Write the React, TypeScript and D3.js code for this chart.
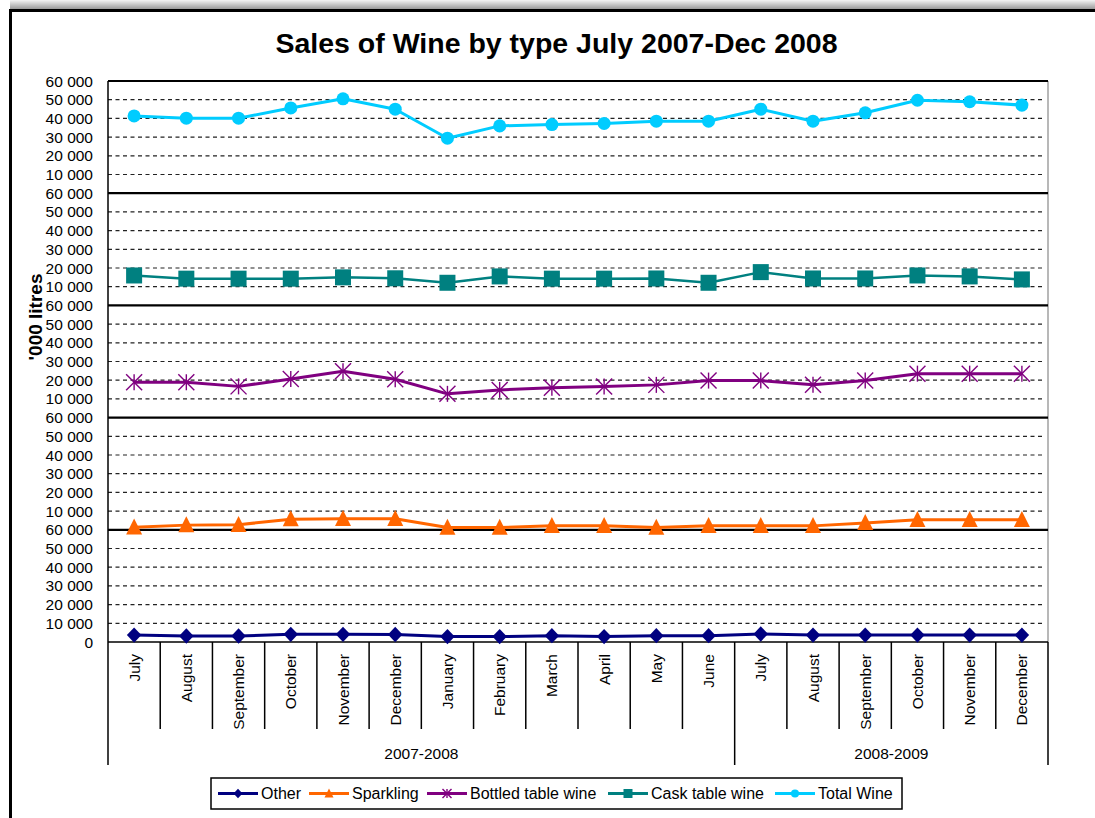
import React from "react";
import * as d3 from "d3";

const months = ["July","August","September","October","November","December","January","February","March","April","May","June","July","August","September","October","November","December"];
const groups = [{ label: "2007-2008", start: 0, end: 12 }, { label: "2008-2009", start: 12, end: 18 }];

const totalWine = [41300,40100,40100,45600,50500,44900,29400,36000,36700,37300,38500,38500,44900,38500,43000,49700,48900,47100];
const caskWine = [16000,14300,14300,14300,15000,14500,12100,15500,14300,14300,14400,12100,17800,14400,14400,16000,15500,13900];
const bottledWine = [18900,18900,16700,20700,24800,20500,12700,14800,15900,16600,17500,19800,19800,17600,19800,23500,23500,23500];
const sparkling = [1300,2500,2700,5700,5900,5900,1200,1200,2100,2100,1200,2100,2100,2100,3700,5400,5400,5400];
const other = [3700,3200,3200,4100,4100,4000,2900,2900,3400,2900,3400,3400,4300,3700,3700,3700,3700,3700];

const yTicks = [10000,20000,30000,40000,50000,60000];

type Series = { name: string; values: number[]; color: string; marker: string; width: number };
const panels: Series[] = [
  { name: "Total Wine", values: totalWine, color: "#00CCFF", marker: "circle", width: 3 },
  { name: "Cask table wine", values: caskWine, color: "#008080", marker: "square", width: 2.5 },
  { name: "Bottled table wine", values: bottledWine, color: "#800080", marker: "star", width: 3 },
  { name: "Sparkling", values: sparkling, color: "#FF6600", marker: "triangle", width: 3 },
  { name: "Other", values: other, color: "#000080", marker: "diamond", width: 3 },
];
const legendOrder = ["Other","Sparkling","Bottled table wine","Cask table wine","Total Wine"];

const W = 1095, H = 818;
const L = 108, R = 1048, T = 81, B = 642;
const FONT = "Arial, 'Liberation Sans', sans-serif";

function Marker({ type, x, y, color, s }: { type: string; x: number; y: number; color: string; s: number }) {
  if (type === "circle") return <circle cx={x} cy={y} r={s * 0.45} fill={color} />;
  if (type === "square") return <rect x={x - s / 2} y={y - s / 2} width={s} height={s} fill={color} />;
  if (type === "triangle") {
    const h = s;
    return <path d={`M${x},${y - h * 0.55}L${x + s / 2},${y + h * 0.45}L${x - s / 2},${y + h * 0.45}Z`} fill={color} />;
  }
  if (type === "diamond") {
    return <path d={`M${x},${y - s * 0.53}L${x + s * 0.5},${y}L${x},${y + s * 0.53}L${x - s * 0.5},${y}Z`} fill={color} />;
  }
  const r = s / 2;
  return (
    <g stroke={color} strokeWidth={1.4}>
      <line x1={x} y1={y - r} x2={x} y2={y + r} />
      <line x1={x - r} y1={y - r} x2={x + r} y2={y + r} />
      <line x1={x - r} y1={y + r} x2={x + r} y2={y - r} />
    </g>
  );
}

export default function App() {
  const x = d3.scaleBand<number>().domain(d3.range(months.length)).range([L, R]);
  const bw = x.bandwidth();
  const cx = (i: number) => (x(i) as number) + bw / 2;
  const panelH = (B - T) / panels.length;
  const markerSize: Record<string, number> = { circle: 14.5, square: 16, star: 16, triangle: 16, diamond: 14.5 };

  return (
    <svg width={W} height={H} style={{ position: "absolute", left: 0, top: 0, background: "#fff" }} fontFamily={FONT}>
      <defs>
        <linearGradient id="shadow" x1="0" y1="0" x2="0" y2="1">
          <stop offset="0" stopColor="#f4f4f4" />
          <stop offset="1" stopColor="#9a9a9a" />
        </linearGradient>
      </defs>
      <rect x={0} y={0} width={W} height={H} fill="#fff" />
      <rect x={10} y={0} width={W - 10} height={9} fill="url(#shadow)" />
      <line x1={9} y1={10.5} x2={W} y2={10.5} stroke="#000" strokeWidth={3} />
      <line x1={10.5} y1={9} x2={10.5} y2={H} stroke="#000" strokeWidth={3} />

      <text x={556.5} y={53} textAnchor="middle" fontSize={28.5} fontWeight="bold">Sales of Wine by type July 2007-Dec 2008</text>

      {panels.map((p, pi) => {
        const top = T + pi * panelH;
        const y = d3.scaleLinear().domain([0, 60000]).range([top + panelH, top]);
        return (
          <g key={p.name}>
            {yTicks.slice(0, 5).map(t => (
              <line key={t} x1={L} x2={R - 4} y1={y(t)} y2={y(t)} stroke="#222" strokeWidth={1.2} strokeDasharray="4,3.5" />
            ))}
            {(pi === panels.length - 1 ? [0, ...yTicks] : yTicks).map(t => (
              <text key={t} x={93} y={y(t)} dy="0.36em" textAnchor="end" fontSize={15.5} fill="#000">{t === 0 ? "0" : d3.format(",")(t).replace(",", " ")}</text>
            ))}
          </g>
        );
      })}

      <line x1={R} y1={T} x2={R} y2={B} stroke="#a0a0a0" strokeWidth={1.5} />
      {d3.range(1, panels.length).map(k => (
        <line key={k} x1={L} x2={R} y1={T + k * panelH} y2={T + k * panelH} stroke="#000" strokeWidth={2.2} />
      ))}
      <line x1={L} x2={R} y1={T} y2={T} stroke="#000" strokeWidth={2.2} />
      <line x1={L} x2={R} y1={B} y2={B} stroke="#000" strokeWidth={1.5} />
      <line x1={L} x2={L} y1={T} y2={765} stroke="#000" strokeWidth={1.5} />

      {d3.range(1, months.length + 1).map(i => {
        const isGroup = groups.some(g => g.end === i);
        const xx = i === months.length ? R : (x(i) as number);
        return <line key={i} x1={xx} x2={xx} y1={B} y2={isGroup ? 765 : 729} stroke="#000" strokeWidth={1.5} />;
      })}
      {months.map((m, i) => (
        <text key={i} transform={`translate(${cx(i)},654) rotate(-90)`} dy="0.36em" textAnchor="end" fontSize={15.5}>{m}</text>
      ))}
      {groups.map(g => {
        const a = x(g.start) as number;
        const b = g.end === months.length ? R : (x(g.end) as number);
        return <text key={g.label} x={(a + b) / 2} y={759} textAnchor="middle" fontSize={15.5}>{g.label}</text>;
      })}

      <text transform="translate(42,317) rotate(-90)" textAnchor="middle" fontSize={19} fontWeight="bold">'000 litres</text>

      {panels.map((p, pi) => {
        const top = T + pi * panelH;
        const y = d3.scaleLinear().domain([0, 60000]).range([top + panelH, top]);
        const line = d3.line<number>().x((_, i) => cx(i)).y(v => y(v));
        return (
          <g key={p.name}>
            <path d={line(p.values) || ""} fill="none" stroke={p.color} strokeWidth={p.width} strokeLinejoin="round" />
            {p.values.map((v, i) => (
              <Marker key={i} type={p.marker} x={cx(i)} y={y(v)} color={p.color} s={markerSize[p.marker]} />
            ))}
          </g>
        );
      })}

      <rect x={211} y={778} width={691} height={31} fill="#fff" stroke="#000" strokeWidth={1.5} />
      {legendOrder.map((name, k) => {
        const p = panels.find(s => s.name === name)!;
        const starts = [218, 309, 427, 608, 775];
        const x0 = starts[k];
        const ly = 793.5;
        return (
          <g key={name}>
            <line x1={x0} x2={x0 + 40} y1={ly} y2={ly} stroke={p.color} strokeWidth={3} />
            <Marker type={p.marker} x={x0 + 20} y={ly} color={p.color} s={9} />
            <text x={x0 + 43} y={ly} dy="0.36em" fontSize={16}>{name}</text>
          </g>
        );
      })}
    </svg>
  );
}
